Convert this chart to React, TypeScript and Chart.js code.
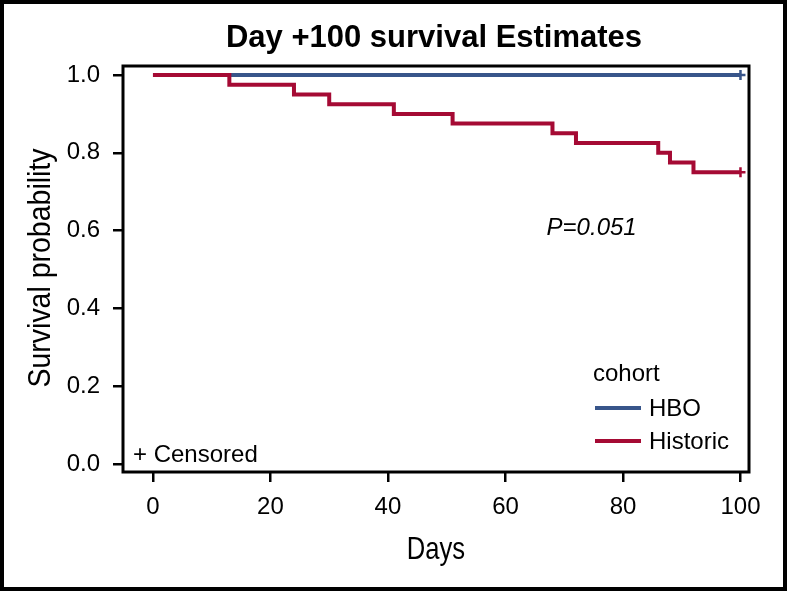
import React, { useEffect, useRef } from "react";
import { Chart, registerables } from "chart.js";

Chart.register(...registerables);

// ---- data ----
const seriesNames = ["HBO", "Historic"];
const seriesColors = ["#38558A", "#A50A34"];
const hboDays = [0, 100];
const hboSurvival = [1.0, 1.0];
const hboCensorDays = [100];
const historicDays = [0, 13, 24, 30, 41, 51, 68, 72, 86, 88, 92, 100];
const historicSurvival = [1.0, 0.975, 0.95, 0.925, 0.9, 0.875, 0.85, 0.825, 0.8, 0.775, 0.75, 0.75];
const historicCensorDays = [100];
const xTickValues = [0, 20, 40, 60, 80, 100];
const yTickValues = [0, 0.2, 0.4, 0.6, 0.8, 1.0];

const titleText = "Day +100 survival Estimates";
const xTitle = "Days";
const yTitle = "Survival probability";
const legendTitle = "cohort";
const censorLabel = "+ Censored";
const pValueText = "P=0.051";
const pValueAt = { day: 67, surv: 0.589 };

const SANS = "'Liberation Sans', Arial, Helvetica, sans-serif";

function toPoints(days: number[], surv: number[]) {
  return days.map((d, i) => ({ x: d, y: surv[i] }));
}

const decorPlugin = {
  id: "decor",
  beforeDraw(chart: any) {
    const { ctx, width, height } = chart;
    ctx.save();
    ctx.fillStyle = "#fff";
    ctx.fillRect(0, 0, width, height);
    ctx.restore();
  },
  afterDraw(chart: any) {
    const { ctx, chartArea: a, width, height, scales } = chart;
    ctx.save();
    // plot frame
    ctx.strokeStyle = "#000";
    ctx.lineWidth = 3;
    ctx.strokeRect(a.left, a.top, a.right - a.left, a.bottom - a.top);
    // outer frame
    ctx.lineWidth = 4;
    ctx.strokeRect(2, 2, width - 4, height - 4);

    // title
    ctx.fillStyle = "#000";
    ctx.font = `bold 31px ${SANS}`;
    ctx.textAlign = "center";
    ctx.textBaseline = "alphabetic";
    ctx.fillText(titleText, (a.left + a.right) / 2 - 2, a.top - 19);

    // axis titles (condensed)
    ctx.font = `32px ${SANS}`;
    ctx.save();
    ctx.translate((a.left + a.right) / 2, a.bottom + 87);
    ctx.scale(0.8, 1);
    ctx.fillText(xTitle, 0, 0);
    ctx.restore();
    ctx.save();
    ctx.translate(50, (a.top + a.bottom) / 2 - 1);
    ctx.rotate(-Math.PI / 2);
    ctx.scale(0.89, 1);
    ctx.fillText(yTitle, 0, 0);
    ctx.restore();

    // p value
    ctx.font = `italic 24px ${SANS}`;
    ctx.textAlign = "left";
    ctx.fillText(pValueText, scales.x.getPixelForValue(pValueAt.day), scales.y.getPixelForValue(pValueAt.surv));

    // censored note
    ctx.font = `24px ${SANS}`;
    ctx.fillText(censorLabel, a.left + 10, a.bottom - 10);

    // legend
    ctx.fillText(legendTitle, a.right - 156, a.bottom - 91);
    const rows = [a.bottom - 64, a.bottom - 31];
    seriesNames.forEach((name, i) => {
      ctx.strokeStyle = seriesColors[i];
      ctx.lineWidth = 4;
      ctx.beginPath();
      ctx.moveTo(a.right - 154, rows[i]);
      ctx.lineTo(a.right - 108, rows[i]);
      ctx.stroke();
      ctx.fillStyle = "#000";
      ctx.textBaseline = "middle";
      ctx.fillText(name, a.right - 100, rows[i] + 1);
    });
    ctx.restore();
  },
};

export default function App() {
  const canvasRef = useRef<HTMLCanvasElement | null>(null);

  useEffect(() => {
    document.body.style.margin = "0";
    const canvas = canvasRef.current;
    if (!canvas) return;
    const chart = new Chart(canvas, {
      type: "line",
      data: {
        datasets: [
          {
            label: seriesNames[1],
            data: toPoints(historicDays, historicSurvival),
            borderColor: seriesColors[1],
            backgroundColor: seriesColors[1],
            borderWidth: 4,
            stepped: "before",
            fill: false,
            order: 0,
            pointStyle: "cross",
            pointRadius: historicDays.map((d, i) => (historicCensorDays.includes(d) && i === historicDays.length - 1 ? 5 : 0)),
            pointBorderWidth: 2.5,
            pointBorderColor: seriesColors[1],
          },
          {
            label: seriesNames[0],
            data: toPoints(hboDays, hboSurvival),
            borderColor: seriesColors[0],
            backgroundColor: seriesColors[0],
            borderWidth: 4,
            stepped: "before",
            fill: false,
            order: 1,
            pointStyle: "cross",
            pointRadius: hboDays.map((d, i) => (hboCensorDays.includes(d) && i === hboDays.length - 1 ? 5 : 0)),
            pointBorderWidth: 2.5,
            pointBorderColor: seriesColors[0],
          },
        ],
      },
      options: {
        responsive: false,
        animation: false,
        devicePixelRatio: 1,
        layout: { padding: { top: 66, right: 38, bottom: 0, left: 0 } },
        plugins: {
          legend: { display: false },
          title: { display: false },
          tooltip: { enabled: false },
        },
        scales: {
          x: {
            type: "linear",
            min: -5.1,
            max: 101.45,
            afterFit: (scale: any) => {
              scale.height = 119;
            },
            afterBuildTicks: (scale: any) => {
              scale.ticks = xTickValues.map((v) => ({ value: v }));
            },
            border: { display: false },
            grid: {
              drawOnChartArea: false,
              drawTicks: true,
              tickLength: 10,
              color: "#000",
              lineWidth: 2.5,
              tickColor: "#000",
              tickWidth: 2.5,
            },
            ticks: {
              color: "#000",
              font: { family: SANS, size: 24 },
              padding: 11,
              maxRotation: 0,
              autoSkip: false,
            },
            title: { display: false, text: xTitle },
          },
          y: {
            type: "linear",
            min: -0.02,
            max: 1.023,
            afterFit: (scale: any) => {
              scale.width = 123;
            },
            afterBuildTicks: (scale: any) => {
              scale.ticks = yTickValues.map((v) => ({ value: v }));
            },
            border: { display: false },
            grid: {
              drawOnChartArea: false,
              drawTicks: true,
              tickLength: 10,
              color: "#000",
              lineWidth: 2.5,
              tickColor: "#000",
              tickWidth: 2.5,
            },
            ticks: {
              color: "#000",
              font: { family: SANS, size: 24 },
              padding: 13,
              autoSkip: false,
              callback: (v: any) => Number(v).toFixed(1),
            },
            title: { display: false, text: yTitle },
          },
        },
      },
      plugins: [decorPlugin],
    });
    return () => chart.destroy();
  }, []);

  return (
    <div style={{ width: 787, height: 591, position: "relative" }}>
      <canvas ref={canvasRef} width={787} height={591} style={{ display: "block" }} />
    </div>
  );
}
